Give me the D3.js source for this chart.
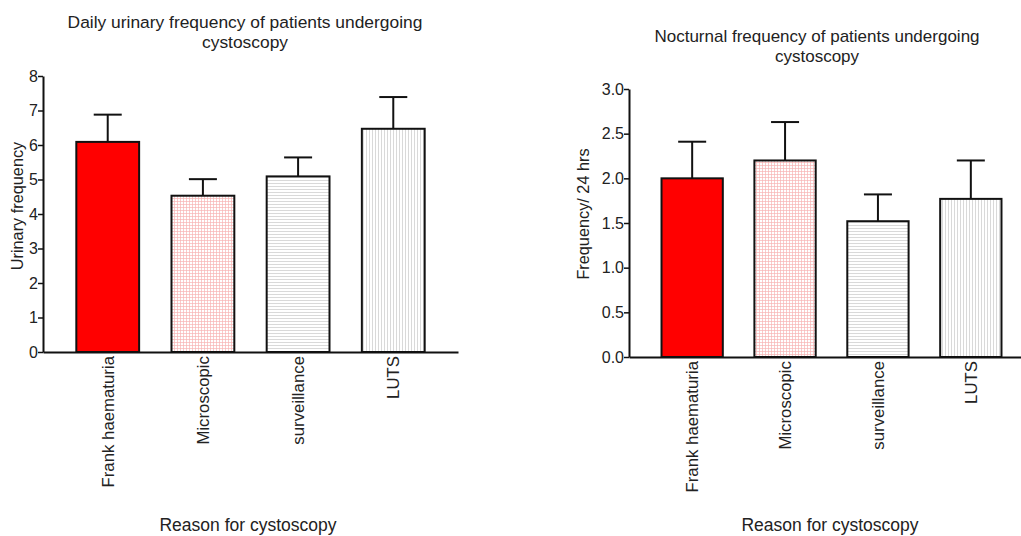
<!DOCTYPE html>
<html>
<head>
<meta charset="utf-8">
<title>Cystoscopy frequency</title>
<script src="https://cdn.jsdelivr.net/npm/d3@7/dist/d3.min.js"></script>
<style>
  body { margin: 0; background: #fff; }
  text { font-family: Arial, "Liberation Sans", sans-serif; fill: #222; }
</style>
</head>
<body>
<script>
// data
var categories = ["Frank haematuria", "Microscopic", "surveillance", "LUTS"];
var dailyMean = [6.09, 4.53, 5.09, 6.47];
var dailyUpper = [6.88, 5.01, 5.64, 7.39];
var nightMean = [2.0, 2.2, 1.52, 1.77];
var nightUpper = [2.41, 2.63, 1.82, 2.2];
var dailyTicks = [0, 1, 2, 3, 4, 5, 6, 7, 8];
var nightTicks = [0, 0.5, 1, 1.5, 2, 2.5, 3];
var fills = ["#ff0000", "url(#grid)", "url(#hlines)", "url(#vlines)"];

var svg = d3.select("body").append("svg")
  .attr("width", 1021)
  .attr("height", 536);

// hatch patterns
var defs = svg.append("defs");
var p = defs.append("pattern").attr("id", "grid").attr("patternUnits", "userSpaceOnUse")
  .attr("width", 3).attr("height", 3);
p.append("rect").attr("width", 3).attr("height", 3).attr("fill", "#fff");
p.append("line").attr("x1", 0).attr("x2", 3).attr("y1", 0.5).attr("y2", 0.5).attr("stroke", "#f8b4b4").attr("stroke-width", 0.7);
p.append("line").attr("x1", 0.5).attr("x2", 0.5).attr("y1", 0).attr("y2", 3).attr("stroke", "#f8b4b4").attr("stroke-width", 0.7);

p = defs.append("pattern").attr("id", "hlines").attr("patternUnits", "userSpaceOnUse")
  .attr("width", 3).attr("height", 3);
p.append("rect").attr("width", 3).attr("height", 3).attr("fill", "#fff");
p.append("line").attr("x1", 0).attr("x2", 3).attr("y1", 0.5).attr("y2", 0.5).attr("stroke", "#cfcfcf").attr("stroke-width", 0.8);

p = defs.append("pattern").attr("id", "vlines").attr("patternUnits", "userSpaceOnUse")
  .attr("width", 3).attr("height", 3);
p.append("rect").attr("width", 3).attr("height", 3).attr("fill", "#fff");
p.append("line").attr("x1", 0.5).attr("x2", 0.5).attr("y1", 0).attr("y2", 3).attr("stroke", "#cfcfcf").attr("stroke-width", 0.8);

function drawChart(o) {
  var g = svg.append("g");

  var x = d3.scaleBand().domain(categories)
    .range([o.left, o.right]).paddingInner(0.34).paddingOuter(0.35);
  var y = d3.scaleLinear().domain(o.domain).range([o.bottom, o.top]);

  // titles
  g.append("text").attr("x", o.titleX).attr("y", o.titleY)
    .attr("text-anchor", "middle").style("font-size", o.titleSize + "px").text(o.title[0]);
  g.append("text").attr("x", o.titleX).attr("y", o.titleY + o.titleSize * 1.17)
    .attr("text-anchor", "middle").style("font-size", o.titleSize + "px").text(o.title[1]);

  // bars
  g.selectAll(".bar").data(o.mean).enter().append("rect")
    .attr("x", function(d, i) { return x(categories[i]); })
    .attr("width", x.bandwidth())
    .attr("y", function(d) { return y(d); })
    .attr("height", function(d) { return o.bottom - y(d); })
    .attr("fill", function(d, i) { return fills[i]; })
    .attr("stroke", "#111").attr("stroke-width", 2);

  // error bars (upper only)
  o.upper.forEach(function(u, i) {
    var cx = x(categories[i]) + x.bandwidth() / 2;
    g.append("line").attr("x1", cx).attr("x2", cx)
      .attr("y1", y(o.mean[i])).attr("y2", y(u))
      .attr("stroke", "#111").attr("stroke-width", 2);
    g.append("line").attr("x1", cx - 14).attr("x2", cx + 14)
      .attr("y1", y(u)).attr("y2", y(u))
      .attr("stroke", "#111").attr("stroke-width", 2);
  });

  // y axis
  var ya = g.append("g").attr("transform", "translate(" + o.left + ",0)")
    .call(d3.axisLeft(y).tickValues(o.ticks).tickFormat(d3.format(o.fmt)).tickSize(5).tickSizeOuter(0));
  ya.select(".domain").attr("stroke", "#111").attr("stroke-width", 2);
  ya.selectAll(".tick line").attr("stroke", "#111").attr("stroke-width", 1.5);
  ya.selectAll(".tick text").attr("x", -5).style("font-size", "16px").style("font-family", "Arial, 'Liberation Sans', sans-serif").attr("fill", "#222");

  // x axis
  var xa = g.append("g").attr("transform", "translate(0," + o.bottom + ")")
    .call(d3.axisBottom(x).tickSize(0).tickSizeOuter(0));
  xa.select(".domain").attr("stroke", "#111").attr("stroke-width", 2);
  xa.selectAll(".tick text")
    .attr("transform", "rotate(-90)")
    .attr("x", -4).attr("y", 0).attr("dy", "0.35em")
    .attr("text-anchor", "end")
    .style("font-size", "16.8px").style("font-family", "Arial, 'Liberation Sans', sans-serif").attr("fill", "#222");

  // axis titles
  g.append("text")
    .attr("transform", "translate(" + o.yTitleX + "," + ((o.top + o.bottom) / 2 + o.yTitleShift) + ") rotate(-90)")
    .attr("text-anchor", "middle").style("font-size", "16.3px").text(o.yTitle);
  g.append("text").attr("x", o.xTitleX).attr("y", 531)
    .attr("text-anchor", "middle").style("font-size", "17.5px").text("Reason for cystoscopy");
}

drawChart({
  left: 43, right: 458, top: 76, bottom: 352,
  domain: [0, 8], ticks: dailyTicks, fmt: "d",
  mean: dailyMean, upper: dailyUpper,
  title: ["Daily urinary frequency of patients undergoing", "cystoscopy"],
  titleX: 245, titleY: 28, titleSize: 17.4,
  yTitle: "Urinary frequency", yTitleX: 23, yTitleShift: -8, xTitleX: 248
});

drawChart({
  left: 629, right: 1034, top: 89, bottom: 357,
  domain: [0, 3], ticks: nightTicks, fmt: ".1f",
  mean: nightMean, upper: nightUpper,
  title: ["Nocturnal frequency of patients undergoing", "cystoscopy"],
  titleX: 817, titleY: 42, titleSize: 17,
  yTitle: "Frequency/ 24 hrs", yTitleX: 589, yTitleShift: -9, xTitleX: 830
});
</script>
</body>
</html>
